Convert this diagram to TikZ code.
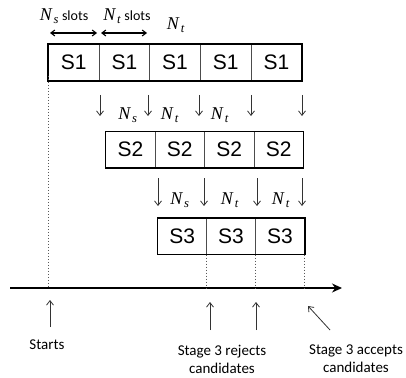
\documentclass[tikz,border=0pt]{standalone}
\usepackage{fontspec}
\setmainfont{Liberation Serif}
\setsansfont{Carlito}
\newfontfamily\cellfont{Liberation Sans}
\usepackage{tikz}
\usetikzlibrary{arrows.meta,positioning}

\newcommand{\Nsub}[1]{\textit{N}\kern1pt\textsubscript{\textit{#1}}}

\begin{document}
\begin{tikzpicture}[x=1pt,y=-1pt]
			\tikzstyle{Cell}	= [draw, gray!60!black, line width=0.6pt, minimum height=36pt, inner sep=0pt, text=black, font=\cellfont\fontsize{21}{21}\selectfont]
			\tikzstyle{Frame}	= [black, line width=1.6pt]
			\tikzstyle{Drop}	= [-{Straight Barb[length=4.5pt,width=7pt]}, gray!40!black, line width=0.8pt]
			\tikzstyle{Span}	= [{Straight Barb[length=4pt,width=6pt]}-{Straight Barb[length=4pt,width=6pt]}, black, line width=1.1pt]
			\tikzstyle{Mark}	= [dash pattern=on 1.5pt off 1.5pt, gray!70!black, line width=0.9pt]
			\tikzstyle{Lab}		= [inner sep=0pt, font=\fontsize{18}{18}\selectfont]
			\tikzstyle{Note}	= [inner sep=0pt, align=center, font=\sffamily\fontsize{15}{18}\selectfont]

			\useasboundingbox (0,0) rectangle (406,377);

			% the three stages
			\foreach \i in {1,...,5}
				\node (a\i) at ({48.3+50.7*(\i-0.5)}, 62.5) [Cell, minimum width=50.7pt] {S1};
			\foreach \i in {1,...,4}
				\node (b\i) at ({105.7+49.4*(\i-0.5)}, 149.7) [Cell, minimum width=49.4pt] {S2};
			\foreach \i in {1,...,3}
				\node (c\i) at ({157.7+48.9*(\i-0.5)}, 236.3) [Cell, minimum width=48.9pt] {S3};

			\draw [Frame] (a1.north west) rectangle (a5.south east);
			\draw [Frame] (b1.north west) rectangle (b4.south east);
			\draw [Frame] (c1.north west) rectangle (c3.south east);

			% slot widths
			\coordinate (w0) at (50,33);
			\coordinate (w1) at (97,33);
			\coordinate (w2) at (101,33);
			\coordinate (w3) at (147,33);
			\draw [Span] (w0) to (w1);
			\draw [Span] (w2) to (w3);
			\node (ls) at (64,16) [Lab] {\Nsub{s}\,{\sffamily\fontsize{14}{14}\selectfont slots}};
			\node (lt) at (127,16) [Lab] {\Nsub{t}\,{\sffamily\fontsize{14}{14}\selectfont slots}};
			\node (lt2) at (176,25) [Lab] {\Nsub{t}};

			% from stage 1 to stage 2
			\foreach \x [count=\i] in {100,148,199,251,302} {
				\coordinate (p\i) at (\x,95);
				\coordinate (q\i) at (\x,116);
				\draw [Drop] (p\i) to (q\i);
			}
			\node (m1) at (128,115) [Lab] {\Nsub{s}};
			\node (m2) at (170,115) [Lab] {\Nsub{t}};
			\node (m3) at (220,115) [Lab] {\Nsub{t}};

			% from stage 2 to stage 3
			\foreach \x [count=\i] in {158,204,257,302} {
				\coordinate (r\i) at (\x,178);
				\coordinate (u\i) at (\x,206);
				\draw [Drop] (r\i) to (u\i);
			}
			\node (n1) at (180,200) [Lab] {\Nsub{s}};
			\node (n2) at (230,200) [Lab] {\Nsub{t}};
			\node (n3) at (281,200) [Lab] {\Nsub{t}};

			% time axis
			\coordinate (t0) at (10,288);
			\coordinate (t1) at (342,288);
			\draw [-{Stealth[length=10pt,width=9pt]}, line width=1.4pt] (t0) to (t1);

			\coordinate (k0) at (a1.south west |- t0);
			\coordinate (k1) at (c1.south east |- t0);
			\coordinate (k2) at (c2.south east |- t0);
			\coordinate (k3) at (c3.south east |- t0);
			\draw [Mark] ([yshift=5pt]a1.south west) to (k0);
			\draw [Mark] (c1.south east) to (k1);
			\draw [Mark] (c2.south east) to (k2);
			\draw [Mark] (c3.south east) to (k3);

			% events
			\coordinate (e0) at (50,327);
			\coordinate (e1) at (210,330);
			\coordinate (e2) at (256,330);
			\coordinate (e3) at (330,330);
			\draw [Drop] (e0) to (50,300);
			\draw [Drop] (e1) to (210,302);
			\draw [Drop] (e2) to (256,302);
			\draw [Drop] (e3) to (308,306);

			\node (start) at (47,345) [Note] {Starts};
			\node (rej) at (222,359) [Note] {Stage 3 rejects\\candidates};
			\node (acc) at (356,359) [Note] {Stage 3 accepts\\candidates};
		\end{tikzpicture}
\end{document}
